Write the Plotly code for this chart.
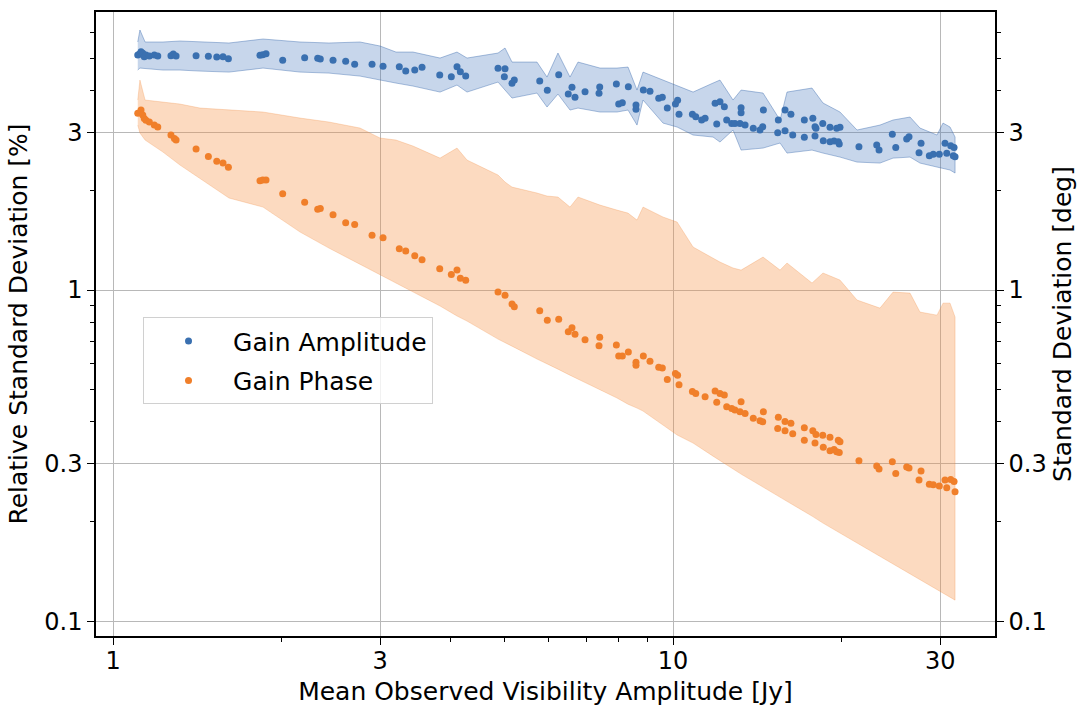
import plotly.graph_objects as go

# ---------------- data ----------------
amp_x = [1.107, 1.114, 1.122, 1.130, 1.137, 1.145, 1.161, 1.185, 1.202, 1.269, 1.281, 1.296, 1.407, 1.480,
         1.532, 1.572, 1.607, 1.830, 1.851, 1.876, 2.009, 2.199, 2.320, 2.345, 2.471, 2.603, 2.701, 2.901, 3.035,
         3.245, 3.332, 3.458, 3.563, 3.832, 4.019, 4.114, 4.171, 4.264, 4.870, 5.012, 4.998, 5.158, 5.207,
         5.781, 5.964, 6.250, 6.501, 6.601, 6.683, 6.965, 7.398, 7.377, 7.922, 7.999, 8.119, 8.322, 8.588,
         8.588, 8.851, 9.097, 9.429, 9.570, 9.768, 10.10, 10.19, 10.25, 10.83, 10.98,
         11.41, 11.25, 11.89, 12.13, 12.35, 11.97, 12.47, 12.73, 12.90, 13.23, 13.23, 13.17, 13.45, 13.91,
         14.30, 14.46, 14.50, 15.42, 15.38, 15.85, 16.24, 15.85, 16.36, 17.16, 17.77, 17.93, 18.00, 17.16,
         17.93, 18.51, 19.07, 18.55, 19.07, 19.39, 19.73, 19.60, 19.87, 19.81, 21.48, 23.11, 23.33, 24.64,
         24.99, 26.14, 26.39, 27.73, 27.50, 28.69, 29.16, 29.89, 30.60, 31.33, 31.76, 30.82, 31.66, 31.89]
amp_y = [5.129, 5.154, 5.248, 5.190, 5.069, 5.129, 5.094, 5.129, 5.094, 5.105, 5.164, 5.094, 5.105, 5.083,
         5.058, 5.069, 4.998, 5.118, 5.139, 5.175, 4.943, 5.034, 5.012, 4.988, 4.943, 4.908, 4.807, 4.807, 4.740,
         4.727, 4.589, 4.621, 4.708, 4.463, 4.410, 4.727, 4.566, 4.432, 4.675, 4.662, 4.410, 4.212, 4.310,
         4.280, 4.012, 4.472, 3.910, 4.097, 3.821, 3.973, 4.105, 3.929, 4.192, 3.647, 3.680, 4.114, 3.622,
         3.516, 4.020, 3.984, 3.795, 3.821, 3.548, 3.647, 3.742, 3.396, 3.396, 3.340,
         3.302, 3.263, 3.665, 3.706, 3.579, 3.173, 3.263, 3.188, 3.188, 3.554, 3.433, 3.188, 3.151, 3.080,
         3.044, 3.115, 3.499, 3.263, 2.988, 3.499, 3.396, 3.029, 2.940, 3.263, 3.302, 3.115, 3.080, 2.893,
         2.920, 3.188, 3.101, 2.825, 2.806, 2.819, 2.806, 3.080, 3.101, 2.761, 2.709, 2.742, 2.648, 2.954,
         2.698, 2.858, 2.905, 2.775, 2.599, 2.545, 2.570, 2.570, 2.775, 2.729, 2.698, 2.588, 2.545, 2.527]

phase_x = [1.107, 1.122, 1.130, 1.137, 1.145, 1.161, 1.185, 1.202, 1.269, 1.287, 1.296, 1.407, 1.480, 1.532,
           1.572, 1.607, 1.830, 1.851, 1.876, 2.009, 2.199, 2.320, 2.345, 2.471, 2.603, 2.701, 2.901, 3.035,
           3.245, 3.332, 3.458, 3.563, 3.832, 4.019, 4.114, 4.171, 4.264, 4.870, 5.012, 5.158, 5.207, 5.781,
           5.964, 6.250, 6.501, 6.601, 6.683, 6.965, 7.398, 7.377, 7.922, 7.999, 8.119, 8.322, 8.588, 8.588,
           8.851, 9.097, 9.429, 9.570, 9.768, 10.10, 10.19, 10.25, 10.83, 10.98,
           11.41, 11.89, 12.13, 12.35, 11.97, 12.47, 12.73, 12.90, 13.23, 13.17, 13.45, 13.91, 14.30, 14.46,
           14.50, 15.42, 15.85, 16.24, 15.38, 15.85, 16.36, 17.16, 17.77, 18.00, 18.51, 19.07, 17.16, 17.93,
           18.55, 19.07, 19.39, 19.73, 19.87, 19.60, 19.81, 21.48, 23.11, 23.33, 24.64, 24.99, 26.14, 26.39,
           27.73, 27.50, 28.69, 29.16, 29.89, 30.82, 30.60, 31.33, 31.76, 31.89]
phase_y = [3.42, 3.50, 3.38, 3.30, 3.26, 3.22, 3.15, 3.11, 2.94, 2.87, 2.84, 2.67, 2.53, 2.45,
           2.42, 2.35, 2.14, 2.15, 2.15, 1.954, 1.841, 1.753, 1.765, 1.689, 1.597, 1.579, 1.463, 1.439,
           1.333, 1.312, 1.269, 1.235, 1.160, 1.115, 1.149, 1.085, 1.070, 0.986, 0.964, 0.907, 0.890, 0.866,
           0.810, 0.816, 0.748, 0.769, 0.735, 0.708, 0.720, 0.679, 0.682, 0.632, 0.632, 0.650, 0.605, 0.593,
           0.632, 0.610, 0.585, 0.582, 0.537, 0.560, 0.553, 0.518, 0.494, 0.487,
           0.476, 0.496, 0.487, 0.482, 0.458, 0.444, 0.439, 0.434, 0.460, 0.429, 0.424, 0.410, 0.403, 0.400,
           0.429, 0.413, 0.401, 0.396, 0.382, 0.376, 0.368, 0.384, 0.376, 0.366, 0.364, 0.359, 0.352, 0.345,
           0.335, 0.327, 0.330, 0.352, 0.348, 0.325, 0.323, 0.305, 0.294, 0.288, 0.303, 0.279, 0.292, 0.290,
           0.284, 0.267, 0.259, 0.258, 0.256, 0.253, 0.267, 0.268, 0.264, 0.246]

band_x = [1.107, 1.117, 1.141, 1.228, 1.317, 1.430, 1.611, 1.853, 2.158, 2.430, 2.761, 2.998, 3.201,
          3.433, 3.837, 4.114, 4.287, 4.870, 5.012, 5.158, 5.716, 5.957, 6.231, 6.547, 6.766, 7.407,
          7.943, 8.311, 8.624, 8.840, 9.597, 10.17, 10.86, 11.79, 12.13, 12.80, 13.23, 14.48, 15.53,
          15.98, 17.71, 18.53, 19.87, 21.31, 23.42, 24.71, 26.50, 27.61, 29.61, 30.35, 31.24, 31.89]
amp_hi = [5.615, 6.104, 5.615, 5.615, 5.654, 5.615, 5.576, 5.733, 5.615, 5.576, 5.615, 5.461, 5.236,
          5.236, 5.022, 5.236, 5.022, 5.200, 5.385, 4.884, 4.884, 4.400, 5.200, 4.400, 4.884, 4.684,
          4.684, 4.717, 4.020, 4.555, 4.309, 4.162, 3.964, 4.220, 4.309, 3.750, 4.020, 3.937, 3.263,
          3.964, 4.076, 3.673, 3.450, 3.044, 3.151, 3.263, 3.332, 3.086, 2.940, 3.195, 3.108, 2.899]
amp_lo = [4.620, 4.684, 4.652, 4.620, 4.620, 4.587, 4.555, 4.684, 4.555, 4.523, 4.430, 4.309, 4.220,
          4.133, 3.964, 4.162, 3.964, 4.250, 4.020, 3.802, 3.937, 3.572, 3.909, 3.498, 3.547, 3.450,
          3.450, 3.498, 3.151, 3.750, 3.195, 3.108, 2.940, 2.899, 2.800, 3.044, 2.648, 2.685, 2.781,
          2.593, 2.648, 2.593, 2.522, 2.436, 2.419, 2.504, 2.522, 2.419, 2.353, 2.337, 2.305, 2.257]
phase_hi = [3.750, 4.309, 3.750, 3.698, 3.647, 3.547, 3.498, 3.450, 3.308, 3.218, 3.086, 2.879, 2.839,
            2.723, 2.504, 2.685, 2.470, 2.226, 2.120, 2.047, 1.964, 1.923, 1.910, 1.781, 1.910, 1.806,
            1.744, 1.708, 1.627, 1.781, 1.662, 1.605, 1.349, 1.249, 1.215, 1.166, 1.149, 1.258, 1.149,
            1.207, 1.050, 1.126, 1.072, 0.933, 0.882, 0.986, 0.979, 0.858, 0.840, 0.913, 0.913, 0.829]
phase_lo = [3.151, 2.981, 2.839, 2.611, 2.386, 2.180, 1.897, 1.781, 1.497, 1.339, 1.198, 1.110, 1.050,
            0.986, 0.895, 0.835, 0.806, 0.711, 0.692, 0.677, 0.619, 0.598, 0.577, 0.553, 0.538, 0.499,
            0.472, 0.452, 0.440, 0.431, 0.391, 0.365, 0.345, 0.315, 0.304, 0.288, 0.278, 0.254, 0.237,
            0.230, 0.2076, 0.1977, 0.1845, 0.1720, 0.1561, 0.1487, 0.1387, 0.1330, 0.1241, 0.1215,
            0.1181, 0.1157]

x_ticks = [1, 3, 10, 30]
x_tick_text = ["1", "3", "10", "30"]
y_ticks = [0.1, 0.3, 1, 3]
y_tick_text = ["0.1", "0.3", "1", "3"]
x_minor = [2, 4, 5, 6, 7, 8, 9, 20]
y_minor = [0.2, 0.4, 0.5, 0.6, 0.7, 0.8, 0.9, 2, 4, 5, 6]

# ---------------- styling ----------------
FONT = "DejaVu Sans"
BLUE = "#3a70b0"
ORANGE = "#f07f2a"
TITLE_SIZE = 25
TICK_SIZE = 24

fig = go.Figure()

# bands
fig.add_trace(go.Scatter(
    x=band_x + band_x[::-1], y=amp_hi + amp_lo[::-1], mode="lines", fill="toself",
    fillcolor="rgba(70,120,190,0.30)", line=dict(color="rgba(50,100,170,0.40)", width=1),
    hoverinfo="skip", showlegend=False))
fig.add_trace(go.Scatter(
    x=band_x + band_x[::-1], y=phase_hi + phase_lo[::-1], mode="lines", fill="toself",
    fillcolor="rgba(245,140,60,0.32)", line=dict(color="rgba(240,130,50,0.25)", width=1),
    hoverinfo="skip", showlegend=False, yaxis="y2"))

# points
fig.add_trace(go.Scatter(x=amp_x, y=amp_y, mode="markers", name="Gain Amplitude",
                         legendgroup="amp", marker=dict(color=BLUE, size=7)))
fig.add_trace(go.Scatter(x=phase_x, y=phase_y, mode="markers", name="Gain Phase",
                         legendgroup="phase", marker=dict(color=ORANGE, size=7), yaxis="y2"))

axis_common = dict(
    type="log", ticks="outside", ticklen=7, tickwidth=1.3, tickcolor="black",
    showline=True, linecolor="black", linewidth=1.5,
    showgrid=True, gridcolor="#b8b8b8", gridwidth=1, zeroline=False,
    tickfont=dict(family=FONT, size=TICK_SIZE, color="black"),
)
minor_common = dict(ticks="outside", ticklen=4, tickwidth=1, tickcolor="black", showgrid=False)
yrange = [-1.045, 0.840]

fig.update_layout(
    width=1082, height=706,
    margin=dict(l=96, r=87, t=12, b=70, autoexpand=False),
    paper_bgcolor="white", plot_bgcolor="white",
    font=dict(family=FONT, size=TICK_SIZE, color="black"),
    xaxis=dict(**axis_common, range=[-0.0304, 1.575], tickvals=x_ticks, ticktext=x_tick_text,
               mirror=True, minor=dict(tickvals=x_minor, **minor_common), ticklabelstandoff=-5,
               title=dict(text="Mean Observed Visibility Amplitude [Jy]",
                          font=dict(family=FONT, size=TITLE_SIZE, color="black"), standoff=9)),
    yaxis=dict(**axis_common, range=yrange, tickvals=y_ticks, ticktext=y_tick_text,
               minor=dict(tickvals=y_minor, **minor_common),
               title=dict(text="Relative Standard Deviation [%]",
                          font=dict(family=FONT, size=TITLE_SIZE, color="black"), standoff=10)),
    yaxis2=dict(**axis_common, range=yrange, tickvals=y_ticks, ticktext=y_tick_text,
                overlaying="y", side="right", anchor="x",
                minor=dict(tickvals=y_minor, **minor_common),
                title=dict(text="Standard Deviation [deg]",
                           font=dict(family=FONT, size=TITLE_SIZE, color="black"), standoff=8)),
    legend=dict(x=0.0523, y=0.511, xanchor="left", yanchor="top",
                bgcolor="rgba(255,255,255,0.8)", bordercolor="#d0d0d0", borderwidth=1,
                font=dict(family=FONT, size=25, color="black"), itemwidth=79,
                traceorder="grouped", tracegroupgap=4),
    showlegend=True,
)
fig.update_yaxes(showgrid=False, selector=dict(overlaying="y"))

fig.write_html("out.html")
